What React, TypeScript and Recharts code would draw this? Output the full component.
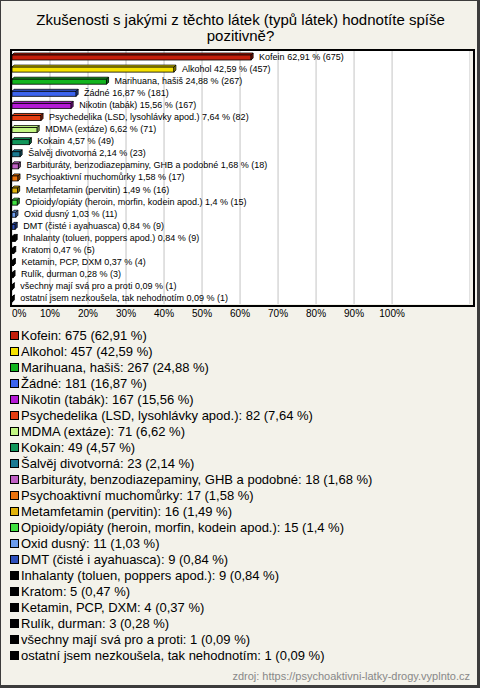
import React from "react";
import { BarChart, Bar, XAxis, YAxis, CartesianGrid } from "recharts";

const categories = [
  "Kofein",
  "Alkohol",
  "Marihuana, hašiš",
  "Žádné",
  "Nikotin (tabák)",
  "Psychedelika (LSD, lysohlávky apod.)",
  "MDMA (extáze)",
  "Kokain",
  "Šalvěj divotvorná",
  "Barbituráty, benzodiazepaminy, GHB a podobné",
  "Psychoaktivní muchomůrky",
  "Metamfetamin (pervitin)",
  "Opioidy/opiáty (heroin, morfin, kodein apod.)",
  "Oxid dusný",
  "DMT (čisté i ayahuasca)",
  "Inhalanty (toluen, poppers apod.)",
  "Kratom",
  "Ketamin, PCP, DXM",
  "Rulík, durman",
  "všechny mají svá pro a proti",
  "ostatní jsem nezkoušela, tak nehodnotím",
];

const percents = [
  62.91, 42.59, 24.88, 16.87, 15.56, 7.64, 6.62, 4.57, 2.14, 1.68, 1.58, 1.49,
  1.4, 1.03, 0.84, 0.84, 0.47, 0.37, 0.28, 0.09, 0.09,
];

const counts = [
  675, 457, 267, 181, 167, 82, 71, 49, 23, 18, 17, 16, 15, 11, 9, 9, 5, 4, 3, 1, 1,
];

const colors = [
  "#c41e0a", "#f6e200", "#12b41e", "#3c64ee", "#b41ad4", "#e43e12", "#c2f682",
  "#11965a", "#1a7a92", "#c060c4", "#e8720e", "#e0b20a", "#40e040", "#6c9cec",
  "#2e50bc", "#000000", "#000000", "#000000", "#000000", "#000000", "#000000",
];

const xTicks = [0, 10, 20, 30, 40, 50, 60, 70, 80, 90, 100];

const fmt = (v: number) => String(v).replace(".", ",");

const data = categories.map((name, i) => ({
  name,
  pct: percents[i],
  count: counts[i],
  color: colors[i],
}));

const FONT = "'Liberation Sans', Arial, sans-serif";

const Bar3D = (props: any) => {
  const { x, y, width, height, payload } = props;
  const d = 2;
  const w = Math.max(width, 0);
  const c = payload.color;
  return (
    <g>
      <polygon
        points={`${x},${y + d} ${x + d},${y} ${x + w + d},${y} ${x + w},${y + d}`}
        fill={c}
        stroke="#000"
        strokeWidth={0.8}
      />
      <rect x={x} y={y + d} width={w} height={height - d} fill={c} stroke="#000" strokeWidth={0.8} />
      <polygon
        points={`${x + w},${y + d} ${x + w + d},${y} ${x + w + d},${y + height - d} ${x + w},${y + height}`}
        fill={c}
        stroke="#000"
        strokeWidth={0.8}
      />
      <polygon
        points={`${x + w},${y + d} ${x + w + d},${y} ${x + w + d},${y + height - d} ${x + w},${y + height}`}
        fill="#000"
        fillOpacity={0.35}
      />
      <text
        x={x + w + d + 6}
        y={y + height / 2}
        dominantBaseline="central"
        fontSize={9}
        fontFamily={FONT}
        fill="#000"
      >
        {`${payload.name} ${fmt(payload.pct)} % (${payload.count})`}
      </text>
    </g>
  );
};

const PctTick = (props: any) => {
  const { x, y, payload } = props;
  return (
    <text
      x={x}
      y={y + 5}
      textAnchor={payload.value === 0 ? "start" : "middle"}
      fontSize={10}
      fontFamily={FONT}
      fill="#000"
    >
      {`${payload.value}%`}
    </text>
  );
};

export default function App() {
  return (
    <div
      style={{
        position: "absolute",
        left: 0,
        top: 0,
        width: 480,
        height: 688,
        boxSizing: "border-box",
        background: "#f3f2ea",
        borderLeft: "1px solid #3c3c3c",
        borderTop: "1px solid #3c3c3c",
        borderRight: "3px solid #3c3c3c",
        borderBottom: "3px solid #3c3c3c",
        fontFamily: FONT,
        overflow: "hidden",
      }}
    >
      <div
        style={{
          position: "absolute",
          left: 0,
          top: 11,
          width: 479,
          textAlign: "center",
          fontSize: 15,
          lineHeight: "16px",
          color: "#000",
        }}
      >
        Zkušenosti s jakými z těchto látek (typů látek) hodnotíte spíše
        <br />
        pozitivně?
      </div>

      <div style={{ position: "absolute", left: 11, top: 49 }}>
        <BarChart
          width={458}
          height={280}
          data={data}
          layout="vertical"
          margin={{ top: 0, right: 0, bottom: 0, left: 0 }}
          barSize={7}
        >
          <CartesianGrid
            horizontal={false}
            stroke="#c4c4c4"
            fill="#ffffff"
            fillOpacity={1}
          />
          <XAxis
            type="number"
            domain={[0, 120.5]}
            ticks={xTicks}
            axisLine={false}
            tickLine={false}
            height={26}
            tick={<PctTick />}
            interval={0}
            allowDataOverflow
          />
          <YAxis type="category" dataKey="name" hide />
          <Bar dataKey="pct" isAnimationActive={false} shape={<Bar3D />} />
        </BarChart>
      </div>
      <div
        style={{
          position: "absolute",
          left: 9,
          top: 48,
          width: 461,
          height: 254,
          border: "2px solid #000",
          pointerEvents: "none",
        }}
      />

      <div style={{ position: "absolute", left: 9, top: 326 }}>
        {categories.map((name, i) => (
          <div
            key={name}
            style={{
              display: "flex",
              alignItems: "center",
              height: 16,
              fontSize: 13,
              color: "#000",
              whiteSpace: "nowrap",
            }}
          >
            <span
              style={{
                display: "inline-block",
                width: 7,
                height: 7,
                background: colors[i],
                border: "1px solid #000",
                marginRight: 2,
              }}
            />
            {`${name}: ${counts[i]} (${fmt(percents[i])} %)`}
          </div>
        ))}
      </div>

      <div
        style={{
          position: "absolute",
          right: 7,
          top: 669,
          fontSize: 11,
          color: "#888",
        }}
      >
        zdroj: https://psychoaktivni-latky-drogy.vyplnto.cz
      </div>
    </div>
  );
}
